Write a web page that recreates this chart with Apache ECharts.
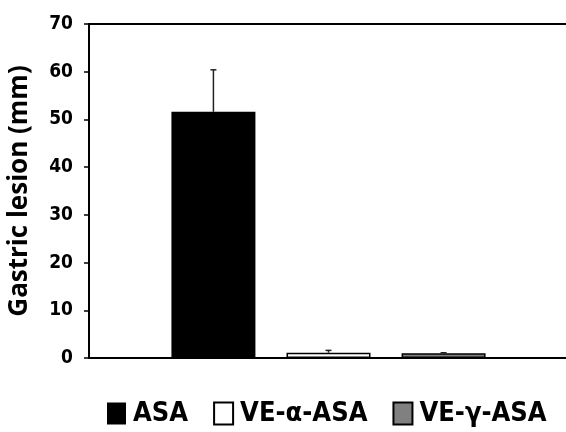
<!DOCTYPE html>
<html>
<head>
<meta charset="utf-8">
<script src="https://cdn.jsdelivr.net/npm/echarts@6/dist/echarts.min.js"></script>
<style>html,body{margin:0;padding:0;background:#fff}#c{width:566px;height:432px}</style>
</head>
<body>
<div id="c"></div>
<script>
const categories = ['Gastric lesion'];
const seriesNames = ['ASA', 'VE-α-ASA', 'VE-γ-ASA'];
const means = [51.6, 1.1, 1.0];
const errors = [8.8, 0.5, 0.1];
const yTicks = [0, 10, 20, 30, 40, 50, 60, 70];

const BAR_W = 84;
const GAP_RATIO = 0.37;
const fills = ['#000000', '#ffffff', '#808080'];
const narrow = '"DejaVu Sans Condensed", "Liberation Sans Narrow", sans-serif';

const chart = echarts.init(document.getElementById('c'), null, {renderer: 'canvas'});

const barSeries = seriesNames.map((name, i) => ({
  name: name,
  type: 'bar',
  barWidth: BAR_W,
  barGap: (GAP_RATIO * 100) + '%',
  data: [means[i]],
  itemStyle: {
    color: fills[i],
    borderColor: '#000',
    borderWidth: i === 0 ? 0 : 1.5
  },
  emphasis: {disabled: true},
  z: 2
}));

const errData = seriesNames.map((n, i) => [0, means[i], errors[i], i]);

const option = {
  animation: false,
  grid: {left: 89, right: -2, top: 24, bottom: 74, containLabel: false, outerBoundsMode: 'none'},
  legend: {
    data: seriesNames.map(n => ({name: n, icon: 'rect'})),
    left: 107,
    top: 400,
    width: 459,
    padding: 0,
    itemWidth: 19,
    itemHeight: 22,
    itemGap: 25,
    textStyle: {
      fontFamily: narrow,
      fontWeight: 'bold',
      fontSize: 27,
      color: '#000',
      padding: [0, 0, 0, 2]
    }
  },
  xAxis: [
    {
      type: 'category',
      data: categories,
      axisLine: {show: true, lineStyle: {color: '#000', width: 2}},
      axisTick: {show: false},
      axisLabel: {show: false}
    },
    {
      type: 'category',
      position: 'top',
      data: categories,
      axisLine: {show: true, lineStyle: {color: '#000', width: 2}},
      axisTick: {show: false},
      axisLabel: {show: false}
    }
  ],
  yAxis: {
    type: 'value',
    min: yTicks[0],
    max: yTicks[yTicks.length - 1],
    interval: 10,
    name: 'Gastric lesion (mm)',
    nameLocation: 'middle',
    nameRotate: 90,
    nameGap: 56,
    nameTextStyle: {
      fontFamily: '"Open Sans", sans-serif',
      fontWeight: 'bold',
      fontSize: 26,
      color: '#000'
    },
    axisLine: {show: true, lineStyle: {color: '#000', width: 2}},
    axisTick: {show: true, length: 5, lineStyle: {color: '#000', width: 1.5}},
    splitLine: {show: false},
    axisLabel: {
      margin: 16,
      fontFamily: narrow,
      fontWeight: 'bold',
      fontSize: 19,
      color: '#000'
    }
  },
  series: barSeries.concat([{
    type: 'custom',
    data: errData,
    z: 5,
    silent: true,
    renderItem: function (params, api) {
      const base = api.coord([api.value(0), api.value(1)]);
      const top = api.coord([api.value(0), api.value(1) + api.value(2)]);
      const idx = api.value(3);
      const step = BAR_W * (1 + GAP_RATIO);
      const x = base[0] + (idx - (seriesNames.length - 1) / 2) * step;
      const style = {stroke: '#222', lineWidth: 1.5};
      return {
        type: 'group',
        children: [
          {type: 'line', shape: {x1: x, y1: base[1], x2: x, y2: top[1]}, style: style},
          {type: 'line', shape: {x1: x - 3, y1: top[1], x2: x + 3, y2: top[1]}, style: style}
        ]
      };
    }
  }])
};
chart.setOption(option);
</script>
</body>
</html>
